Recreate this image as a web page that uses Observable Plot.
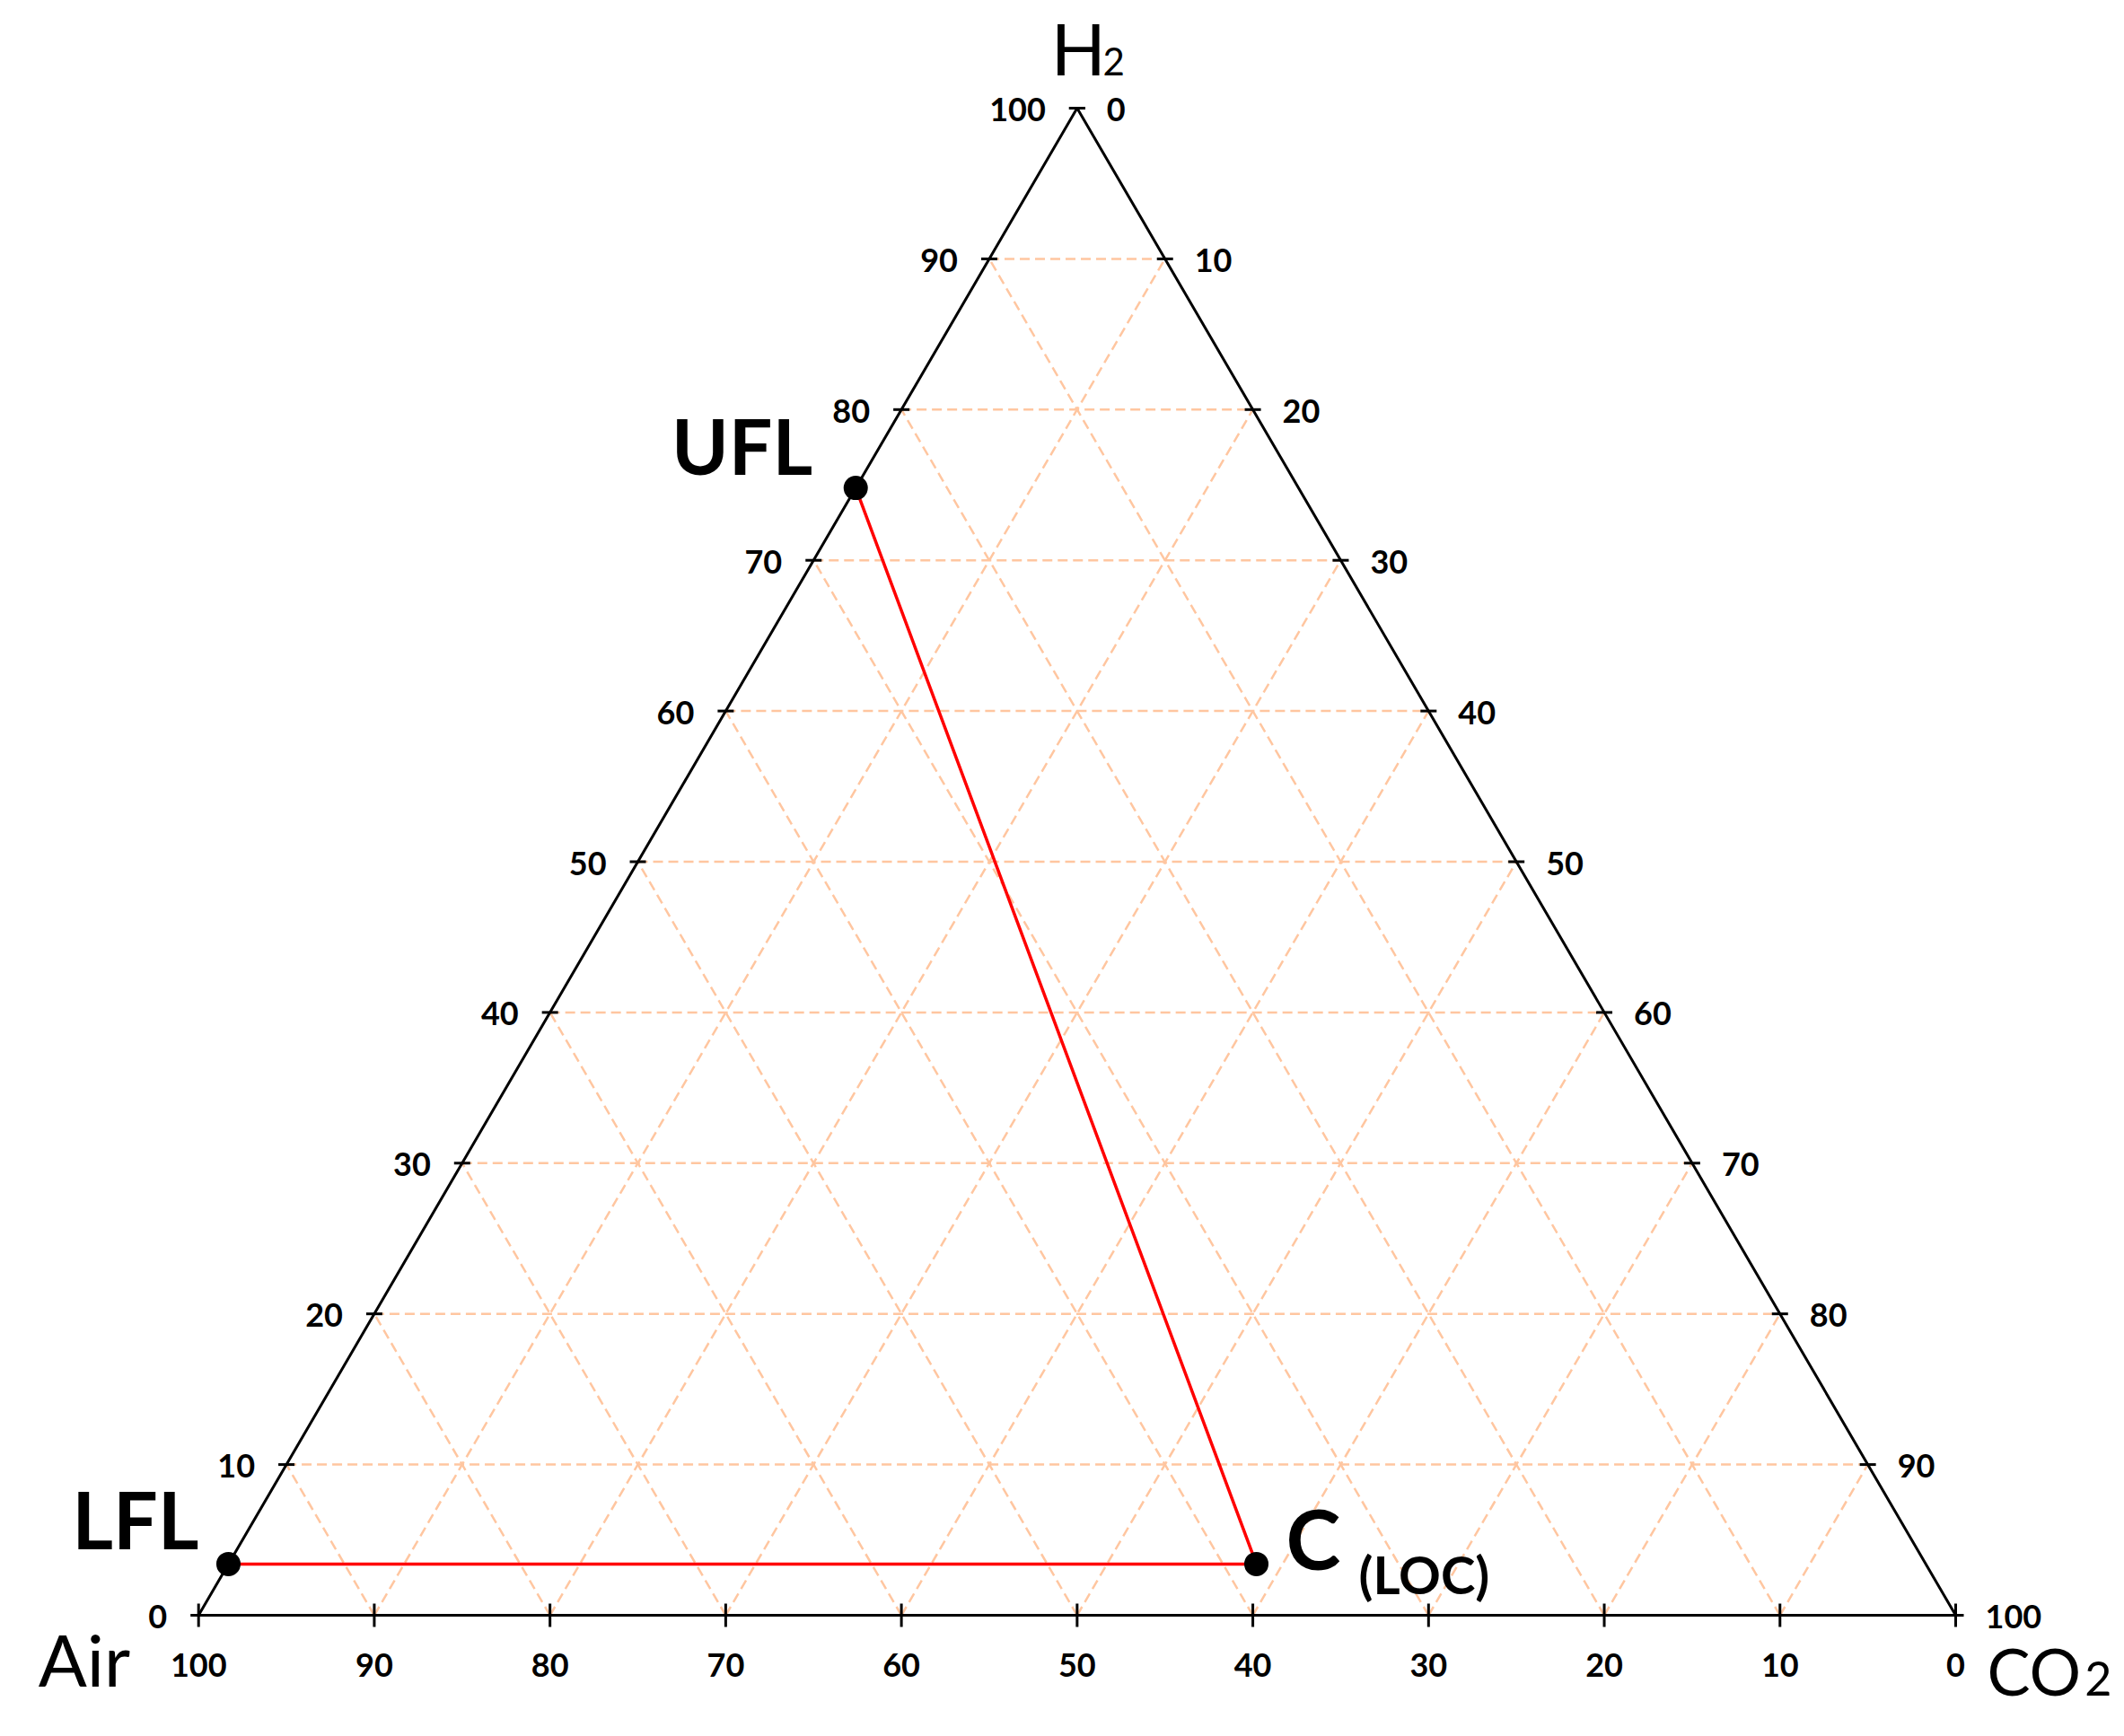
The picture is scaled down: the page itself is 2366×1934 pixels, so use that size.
<!DOCTYPE html>
<html>
<head>
<meta charset="utf-8">
<script src="https://cdn.jsdelivr.net/npm/d3@7"></script>
<script src="https://cdn.jsdelivr.net/npm/@observablehq/plot@0.6"></script>
<style>
  html, body { margin: 0; padding: 0; background: #fff; }
  #chart svg { display: block; }
</style>
</head>
<body>
<div id="chart"></div>
<script>
// ---- data ----
const ticks = [0, 10, 20, 30, 40, 50, 60, 70, 80, 90, 100];
const gridLevels = [10, 20, 30, 40, 50, 60, 70, 80, 90];
const pointNames = ["LFL", "C", "UFL"];
const pointH2 = [3.4, 3.4, 74.8];
const pointCO2 = [0, 58.5, 0];
const pointAir = [96.6, 38.1, 25.2];

// ternary (H2 top, Air bottom-left, CO2 bottom-right) -> cartesian in percent units
const tern = (h2, co2) => ({x: co2 + h2 / 2, y: h2});

const points = pointNames.map((name, i) => ({name, ...tern(pointH2[i], pointCO2[i]), air: pointAir[i]}));

const triangle = [tern(0, 0), tern(0, 100), tern(100, 0), tern(0, 0)];

const grid = [];
for (const v of gridLevels) {
  const a = tern(v, 0), b = tern(v, 100 - v);           // constant H2
  grid.push({x1: a.x, y1: a.y, x2: b.x, y2: b.y});
  const c = tern(0, v), d = tern(100 - v, v);           // constant CO2
  grid.push({x1: c.x, y1: c.y, x2: d.x, y2: d.y});
  const e = tern(0, 100 - v), f = tern(100 - v, 0);     // constant Air
  grid.push({x1: e.x, y1: e.y, x2: f.x, y2: f.y});
}

const leftTicks = ticks.map(v => ({v, ...tern(v, 0)}));          // H2
const rightTicks = ticks.map(v => ({v, ...tern(100 - v, v)}));   // CO2
const bottomTicks = ticks.map(v => ({v, ...tern(0, 100 - v)}));  // Air

const vTop = [tern(100, 0)], vBL = [tern(0, 0)], vBR = [tern(0, 100)];

const hTick = {draw(ctx, size) { const r = Math.sqrt(size / Math.PI); ctx.moveTo(-r, 0); ctx.lineTo(r, 0); }};
const vTick = {draw(ctx, size) { const r = Math.sqrt(size / Math.PI); ctx.moveTo(0, -r); ctx.lineTo(0, r); }};

const font = "Lato, 'Open Sans', sans-serif";
const redPath = [points[0], points[1], points[2]];

const chart = Plot.plot({
  width: 2366,
  height: 1934,
  margin: 0,
  style: {background: "white", fontFamily: font},
  x: {domain: [0, 100], range: [220.7, 2178], axis: null},
  y: {domain: [0, 100], range: [1799, 120], axis: null},
  marks: [
    Plot.link(grid, {x1: "x1", y1: "y1", x2: "x2", y2: "y2", stroke: "#FFC6A0", strokeWidth: 2.5, strokeDasharray: "11,6"}),
    Plot.line(redPath, {x: "x", y: "y", stroke: "#FF0000", strokeWidth: 3.5}),
    Plot.line(triangle, {x: "x", y: "y", stroke: "black", strokeWidth: 3}),
    Plot.dot(leftTicks, {x: "x", y: "y", symbol: hTick, r: 9, stroke: "black", strokeWidth: 3, fill: "none"}),
    Plot.dot(rightTicks, {x: "x", y: "y", symbol: hTick, r: 9, stroke: "black", strokeWidth: 3, fill: "none"}),
    Plot.dot(bottomTicks, {x: "x", y: "y", symbol: vTick, r: 13, stroke: "black", strokeWidth: 3, fill: "none"}),
    Plot.dot(points, {x: "x", y: "y", r: 13.5, fill: "black", stroke: "none"}),
    // tick labels
    Plot.text(leftTicks, {x: "x", y: "y", text: d => String(d.v), textAnchor: "end", dx: -35, dy: 3, fontSize: 36, fontWeight: "bold", fill: "black"}),
    Plot.text(rightTicks, {x: "x", y: "y", text: d => String(d.v), textAnchor: "start", dx: 33, dy: 3, fontSize: 36, fontWeight: "bold", fill: "black"}),
    Plot.text(bottomTicks, {x: "x", y: "y", text: d => String(d.v), lineAnchor: "bottom", dy: 68, fontSize: 36, fontWeight: "bold", fill: "black"}),
    // vertex labels
    Plot.text(vTop, {x: "x", y: "y", text: ["H"], textAnchor: "start", lineAnchor: "bottom", dx: -29, dy: -37, fontSize: 80, fill: "black"}),
    Plot.text(vTop, {x: "x", y: "y", text: ["2"], textAnchor: "end", lineAnchor: "bottom", dx: 53, dy: -37, fontSize: 42, fill: "black"}),
    Plot.text(vBL, {x: "x", y: "y", text: ["Air"], textAnchor: "end", lineAnchor: "bottom", dx: -76, dy: 79, fontSize: 80, fill: "black"}),
    Plot.text(vBR, {x: "x", y: "y", text: ["CO"], textAnchor: "start", lineAnchor: "bottom", dx: 35, dy: 89, fontSize: 72, fill: "black"}),
    Plot.text(vBR, {x: "x", y: "y", text: ["2"], textAnchor: "end", lineAnchor: "bottom", dx: 174, dy: 89, fontSize: 52, fill: "black"}),
    // point labels
    Plot.text([points[0]], {x: "x", y: "y", text: "name", textAnchor: "end", lineAnchor: "bottom", dx: -33, dy: -16, fontSize: 88, fontWeight: "bold", fill: "black"}),
    Plot.text([points[2]], {x: "x", y: "y", text: "name", textAnchor: "end", lineAnchor: "bottom", dx: -48, dy: -15, fontSize: 86, fontWeight: "bold", fill: "black"}),
    Plot.text([points[1]], {x: "x", y: "y", text: "name", textAnchor: "start", lineAnchor: "bottom", dx: 33, dy: 7, fontSize: 92, fontWeight: "bold", fill: "black"}),
    Plot.text([points[1]], {x: "x", y: "y", text: ["(LOC)"], textAnchor: "start", lineAnchor: "bottom", dx: 114, dy: 34, fontSize: 58, fontWeight: "bold", fill: "black"})
  ]
});

document.getElementById("chart").appendChild(chart);
</script>
</body>
</html>
